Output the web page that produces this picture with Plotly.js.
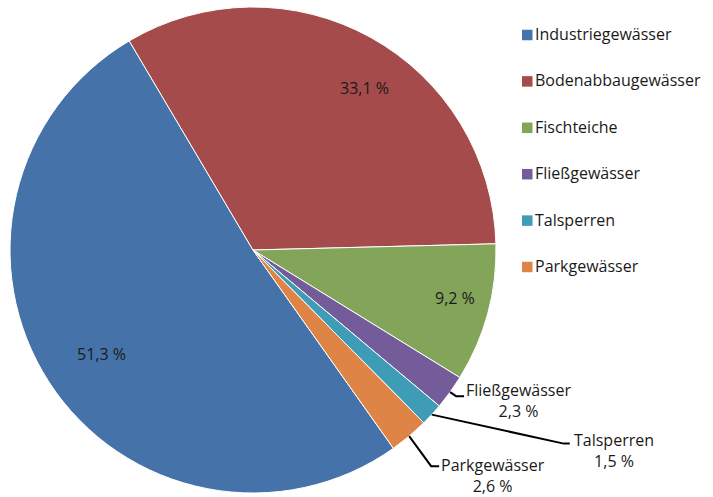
<!DOCTYPE html>
<html>
<head>
<meta charset="utf-8">
<script src="https://cdn.plot.ly/plotly-3.0.1.min.js"></script>
<style>html,body{margin:0;padding:0;background:#fff;}#chart{width:713px;height:497px;}</style>
</head>
<body>
<div id="chart"></div>
<script>
// ---- data ----
const labels = ['Industriegewässer', 'Bodenabbaugewässer', 'Fischteiche', 'Fließgewässer', 'Talsperren', 'Parkgewässer'];
const values = [51.3, 33.1, 9.2, 2.3, 1.5, 2.6];
const colors = ['#4572A8', '#A54B4B', '#82A55A', '#735C99', '#3E9CB6', '#DE8446'];

// ---- geometry (layout) ----
const W = 713, H = 497;
const cx = 253, cy = 250, R = 243;
const rotation = 144.7;
const FONT = 'Open Sans, Noto Sans, DejaVu Sans, sans-serif';
const TXT = '#1a1a1a';

function fmt(v) { return v.toFixed(1).replace('.', ',') + ' %'; }
const total = values.reduce((a, b) => a + b, 0);
const mids = [];
let cum = 0;
values.forEach(v => { mids.push(rotation + 360 * (cum + v / 2) / total); cum += v; });
function pt(angDeg, r) {
  const a = angDeg * Math.PI / 180;
  return [cx + r * Math.sin(a), cy - r * Math.cos(a)];
}
const px = x => x / W, py = y => 1 - y / H;

const annotations = [];
const shapes = [];

// inside labels: [index, angle nudge, radius fraction]
const inside = [[0, -1.6, 0.755], [1, 5.5, 0.81], [2, -1.8, 0.855]];
inside.forEach(([i, da, rf]) => {
  const p = pt(mids[i] + da, R * rf);
  annotations.push({ x: px(p[0]), y: py(p[1]), xref: 'paper', yref: 'paper', text: fmt(values[i]),
    showarrow: false, xanchor: 'center', yanchor: 'middle', borderpad: 0,
    font: { family: FONT, size: 16, color: TXT } });
});

// outside labels with leader lines: [index, elbow offset, end offset, text offset]
const outside = [
  [3, [6, 4], [14, 4], [15, 8]],
  [4, [132, 29], [138, 29], [141, 36]],
  [5, [22, 30], [30, 30], [31, 39]]
];
outside.forEach(([i, e, f, t]) => {
  const s = pt(mids[i], R);
  const path = `M ${px(s[0])} ${py(s[1])} L ${px(s[0] + e[0])} ${py(s[1] + e[1])} L ${px(s[0] + f[0])} ${py(s[1] + f[1])}`;
  shapes.push({ type: 'path', path: path, xref: 'paper', yref: 'paper', line: { color: '#000', width: 2 } });
  annotations.push({ x: px(s[0] + t[0]), y: py(s[1] + t[1]), xref: 'paper', yref: 'paper',
    text: labels[i] + '<br>' + fmt(values[i]), align: 'center', showarrow: false, borderpad: 0,
    xanchor: 'left', yanchor: 'middle', font: { family: FONT, size: 16, color: TXT } });
});

// legend (manual)
const legX = 522, legY0 = 35, legStep = 46.4, sq = 10.5;
labels.forEach((l, i) => {
  const y = legY0 + i * legStep;
  shapes.push({ type: 'rect', xref: 'paper', yref: 'paper', x0: px(legX), x1: px(legX + sq),
    y0: py(y - sq / 2), y1: py(y + sq / 2), fillcolor: colors[i], line: { width: 0 } });
  annotations.push({ x: px(legX + sq + 1.5), y: py(y - 1), xref: 'paper', yref: 'paper', text: l,
    showarrow: false, xanchor: 'left', yanchor: 'middle', borderpad: 0,
    font: { family: FONT, size: 16, color: TXT } });
});

const trace = {
  type: 'pie', labels: labels, values: values, sort: false, direction: 'clockwise', rotation: rotation,
  marker: { colors: colors, line: { color: '#ffffff', width: 1 } },
  textinfo: 'none', hoverinfo: 'label+percent', showlegend: false,
  domain: { x: [(cx - R) / W, (cx + R) / W], y: [1 - (cy + R) / H, 1 - (cy - R) / H] }
};

const layout = {
  width: W, height: H, margin: { l: 0, r: 0, t: 0, b: 0 },
  paper_bgcolor: '#fff', showlegend: false,
  annotations: annotations, shapes: shapes,
  font: { family: FONT }
};
Plotly.newPlot('chart', [trace], layout, { displayModeBar: false, staticPlot: true });
</script>
</body>
</html>
